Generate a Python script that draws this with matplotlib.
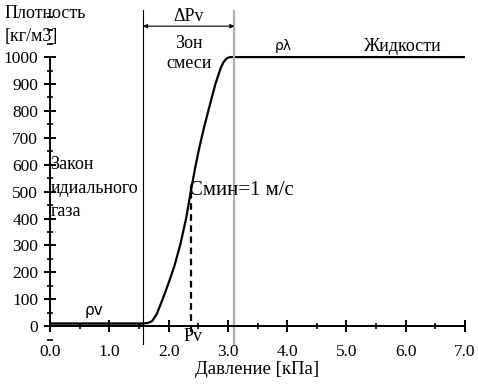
import numpy as np
import matplotlib.pyplot as plt
from matplotlib.ticker import MultipleLocator

plt.rcParams['font.family'] = ['Liberation Serif', 'DejaVu Serif']

# кривая плотности
p = [0.0, 1.57, 1.65, 1.72, 1.80, 1.90, 2.00, 2.10, 2.20, 2.30, 2.37,
     2.45, 2.52, 2.60, 2.67, 2.79, 2.88, 2.93, 2.98, 3.03, 3.11, 7.0]
rho = [10, 10, 12, 18, 45, 100, 160, 225, 305, 405, 495,
       590, 665, 740, 800, 900, 960, 982, 995, 1000, 1000, 1000]

p_start = 1.57   # начало зоны смеси
p_end = 3.11     # конец зоны смеси
p_v = 2.37       # Pv
rho_pv = 495

fig = plt.figure(figsize=(4.78, 3.85), dpi=100)
ax = fig.add_axes([50/478, 1 - 345/385, 415/478, 335/385])

ax.plot(p, rho, color='black', lw=1.6, solid_capstyle='butt')
ax.fill_between([0, p_start], 0, 10, color='#999999', lw=0)
ax.plot([0, p_start], [0, 0], color='black', lw=1.2)

ylo, yhi = -70, 1175
ax.set_xlim(0, 7.0)
ax.set_ylim(ylo, yhi)

ax.axvline(p_start, color='black', lw=0.8)
ax.axvline(p_end, color='#b0b0b0', lw=1.6)
ax.plot([p_v, p_v], [-20, rho_pv], color='black', lw=1.6, ls=(0, (3, 2)))

ax.annotate('', xy=(p_start, 1115), xytext=(p_end, 1115),
            arrowprops=dict(arrowstyle='<|-|>', color='black', lw=0.8,
                            mutation_scale=6, shrinkA=0, shrinkB=0))

for s in ['top', 'right']:
    ax.spines[s].set_visible(False)
ax.spines['bottom'].set_position(('data', 0))
ax.spines['left'].set_bounds(0, 1000)
ax.spines['left'].set_linewidth(1.4)
ax.spines['bottom'].set_linewidth(1.4)

ax.set_xticks(np.arange(0, 7.01, 1.0))
ax.set_xticklabels([f'{v:.1f}' for v in np.arange(0, 7.01, 1.0)])
ax.set_yticks(np.arange(0, 1001, 100))
ax.xaxis.set_minor_locator(MultipleLocator(0.5))
ax.yaxis.set_minor_locator(MultipleLocator(50))
ax.tick_params(which='major', direction='inout', length=9, width=1.4,
               labelsize=12.5)
ax.tick_params(which='minor', direction='inout', length=5, width=1.2)
ax.tick_params(axis='x', pad=8)
ax.tick_params(axis='y', pad=4)

ax.set_xlabel('Давление [кПа]', fontsize=13.5, labelpad=1)

fs = 13
fig.text(5/478, 1 - 13/385, 'Плотность', fontsize=fs, va='center')
fig.text(5/478, 1 - 36/385, '[кг/м3]', fontsize=fs, va='center')

ax.text(0.0, 600, 'Закон', fontsize=fs, va='center')
ax.text(0.02, 510, 'идиального', fontsize=fs, va='center')
ax.text(0.02, 425, 'газа', fontsize=fs, va='center')

ax.text(0.75, 60, 'ρv', fontsize=11, family='DejaVu Sans', ha='center',
        va='center')
ax.text(3.94, 1040, 'ρλ', fontsize=10, family='DejaVu Sans', ha='center',
        va='center')
ax.text(5.95, 1040, 'Жидкости', fontsize=fs, ha='center', va='center')

ax.text((p_start + p_end) / 2, 1150, 'ΔPv', fontsize=fs, ha='center',
        va='center')
ax.text((p_start + p_end) / 2, 1050, 'Зон', fontsize=fs, ha='center',
        va='center')
ax.text((p_start + p_end) / 2, 975, 'смеси', fontsize=fs, ha='center',
        va='center')

ax.text(p_v - 0.02, 505, 'Cмин=1 м/с', fontsize=15, ha='left', va='center')
ax.text(p_v + 0.05, -40, 'Pv', fontsize=fs, ha='center', va='center')

fig.savefig('out.png', dpi=100)
